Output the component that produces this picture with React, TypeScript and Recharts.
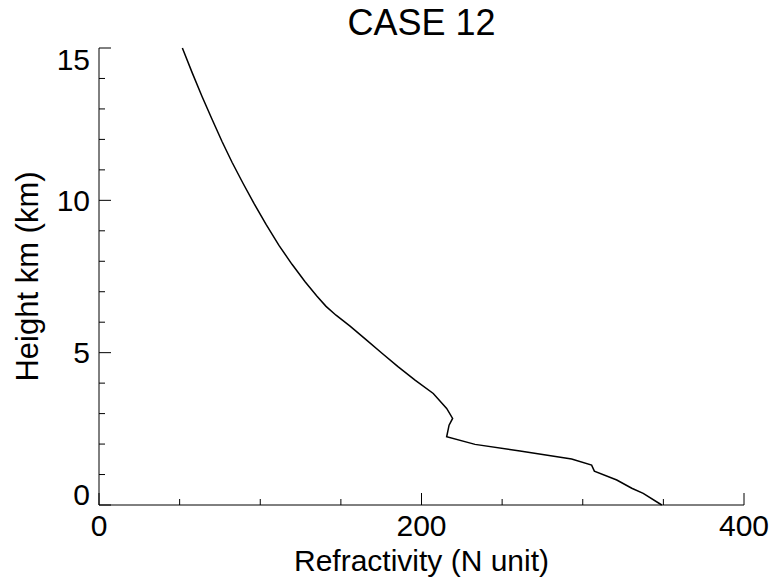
import React from "react";
import { LineChart, Line, XAxis, YAxis } from "recharts";

// refractivity profile (N units vs km)
const refractivity = [
  51.7, 57.7, 63.9, 70.1, 76.3, 82.5, 89.3, 96.1, 103.6, 111.6, 119.7, 127.8,
  135.2, 140.8, 147.0, 155.7, 165.6, 175.5, 185.4, 196.0, 207.3, 215.6, 219.3,
  217.1, 215.6, 233.2, 261.1, 293.1, 305.5, 307.2, 321.1, 330.4, 337.5, 349.0,
];
const height = [
  15.0, 14.2, 13.41, 12.66, 11.93, 11.25, 10.56, 9.9, 9.21, 8.52, 7.9, 7.33,
  6.85, 6.52, 6.23, 5.87, 5.43, 4.98, 4.54, 4.1, 3.66, 3.17, 2.84, 2.62, 2.24,
  1.99, 1.77, 1.51, 1.31, 1.11, 0.82, 0.55, 0.38, 0.0,
];

const xTicks = [0, 50, 100, 150, 200, 250, 300, 350, 400];
const xMajor = [0, 200, 400];
const yTicks = [0, 1, 2, 3, 4, 5, 6, 7, 8, 9, 10, 11, 12, 13, 14, 15];
const yMajor = [0, 5, 10, 15];

const FONT = '"Liberation Sans", Arial, Helvetica, sans-serif';
const FS = 30;

const data = refractivity.map((n, i) => ({ n, h: height[i] }));

const BottomTick = (props: any) => {
  const { x, y, payload } = props;
  const major = xMajor.includes(payload.value);
  return (
    <g>
      <line x1={x} y1={y} x2={x} y2={y - (major ? 12 : 6)} stroke="#000" />
      {major && (
        <text x={x} y={y + 31} textAnchor="middle" fontSize={FS} fontFamily={FONT} fill="#000">
          {payload.value}
        </text>
      )}
    </g>
  );
};

const TopTick = (props: any) => {
  const { x, y, payload } = props;
  const major = xMajor.includes(payload.value);
  return <line x1={x} y1={y} x2={x} y2={y + (major ? 12 : 6)} stroke="#000" />;
};

const LeftTick = (props: any) => {
  const { x, y, payload } = props;
  const v = payload.value;
  const major = yMajor.includes(v);
  let ty = y + 10.5;
  if (v === 15) ty = y + 21.5;
  if (v === 0) ty = y;
  return (
    <g>
      <line x1={x} y1={y} x2={x + (major ? 12 : 6)} y2={y} stroke="#000" />
      {major && (
        <text x={x - 9} y={ty} textAnchor="end" fontSize={FS} fontFamily={FONT} fill="#000">
          {v}
        </text>
      )}
    </g>
  );
};

const RightTick = (props: any) => {
  const { x, y, payload } = props;
  const major = yMajor.includes(payload.value);
  return <line x1={x} y1={y} x2={x - (major ? 12 : 6)} y2={y} stroke="#000" />;
};

export default function App() {
  return (
    <div style={{ position: "absolute", left: 0, top: 0, width: 771, height: 579, background: "#fff" }}>
      <LineChart
        width={771}
        height={579}
        data={data}
        margin={{ top: 48, right: 27, bottom: 0, left: 0 }}
      >
        <XAxis
          xAxisId="bottom"
          type="number"
          dataKey="n"
          domain={[0, 400]}
          ticks={xTicks}
          interval={0}
          height={74}
          tickSize={0}
          tickMargin={0}
          tickLine={false}
          tick={<BottomTick />}
          axisLine={{ stroke: "#000" }}
          label={{
            content: (p: any) => {
              const vb = p.viewBox;
              return (
                <text x={vb.x + vb.width / 2} y={vb.y + 66} textAnchor="middle" fontSize={30} fontFamily={FONT} fill="#000">
                  Refractivity (N unit)
                </text>
              );
            },
          }}
        />
        <XAxis
          xAxisId="top"
          orientation="top"
          type="number"
          dataKey="n"
          domain={[0, 400]}
          ticks={xTicks}
          interval={0}
          height={0}
          tickSize={0}
          tickMargin={0}
          tickLine={false}
          tick={<TopTick />}
          axisLine={{ stroke: "#000" }}
        />
        <YAxis
          yAxisId="left"
          type="number"
          domain={[0, 15]}
          ticks={yTicks}
          interval={0}
          width={99}
          tickSize={0}
          tickMargin={0}
          tickLine={false}
          tick={<LeftTick />}
          axisLine={{ stroke: "#000" }}
          label={{
            content: (p: any) => {
              const vb = p.viewBox;
              const cx = 38;
              const cy = vb.y + vb.height / 2;
              return (
                <text x={cx} y={cy} transform={`rotate(-90 ${cx} ${cy})`} textAnchor="middle" fontSize={31} fontFamily={FONT} fill="#000">
                  Height km (km)
                </text>
              );
            },
          }}
        />
        <YAxis
          yAxisId="right"
          orientation="right"
          type="number"
          domain={[0, 15]}
          ticks={yTicks}
          interval={0}
          width={0}
          tickSize={0}
          tickMargin={0}
          tickLine={false}
          tick={<RightTick />}
          axisLine={{ stroke: "#000" }}
        />
        <Line
          xAxisId="bottom"
          yAxisId="left"
          type="linear"
          dataKey="h"
          stroke="#000"
          strokeWidth={1.5}
          dot={false}
          isAnimationActive={false}
        />
      </LineChart>
      <div
        style={{
          position: "absolute",
          left: 99,
          width: 645,
          top: 3,
          textAlign: "center",
          fontFamily: FONT,
          fontSize: 36,
          lineHeight: "40px",
          color: "#000",
        }}
      >
        CASE 12
      </div>
    </div>
  );
}
